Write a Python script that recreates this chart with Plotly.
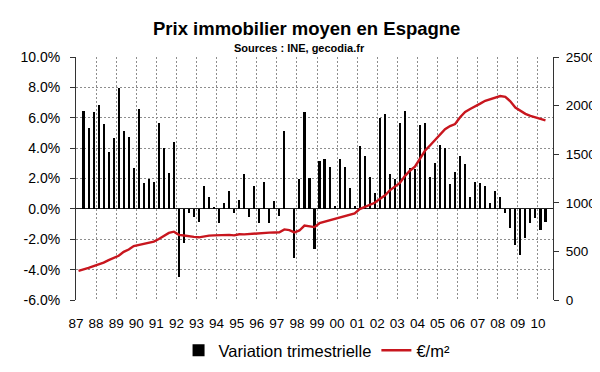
import plotly.graph_objects as go

# Quarterly data, 1987Q1 .. 2010Q2
year_labels = ["87", "88", "89", "90", "91", "92", "93", "94", "95", "96", "97", "98",
               "99", "00", "01", "02", "03", "04", "05", "06", "07", "08", "09", "10"]

pct_ticks = [-6, -4, -2, 0, 2, 4, 6, 8, 10]
pct_tick_labels = ["-6.0%", "-4.0%", "-2.0%", "0.0%", "2.0%", "4.0%", "6.0%", "8.0%", "10.0%"]

# Average price (EUR/m2), starting 1987Q1
price_eur_m2 = [
    300, 312, 330, 348, 365, 385, 410, 430, 455, 495, 520, 555,
    565, 575, 588, 600, 628, 660, 690, 703, 670, 663, 660, 650,
    645, 655, 662, 665, 668, 669, 670, 665, 676, 675, 680, 679,
    684, 690, 693, 695, 696, 726, 719, 696, 715, 765, 760, 750,
    790, 805, 822, 835, 850, 860, 875, 890, 935, 956, 975, 1000,
    1040, 1075, 1128, 1165, 1205, 1275, 1330, 1372, 1450, 1535, 1590, 1645,
    1700, 1757, 1790, 1810, 1880, 1935, 1965, 1990, 2020, 2050, 2065, 2080,
    2098, 2090, 2045, 1980, 1950, 1915, 1895, 1880, 1865, 1848,
]

# Quarterly variation (%), starting 1987Q2
variation_pct = [
    6.47, 5.32, 6.35, 6.82, 5.60, 3.74, 4.66, 7.93, 5.15, 4.70, 2.71, 6.60,
    1.71, 1.99, 1.75, 5.68, 4.02, 2.39, 4.38, -4.51, -2.26, -0.30, -0.51, -0.88,
    1.50, 0.79, 0.15, -0.94, 0.36, 1.20, -0.30, 0.60, 2.31, -0.51, 1.50, -0.96,
    1.75, -0.96, 0.51, -0.49, 5.13, 0.00, -3.25, 1.97, 6.35, 2.01, -2.61, 3.12,
    3.27, 2.74, 0.19, 3.27, 2.76, 1.35, 0.19, 4.12, 3.46, 2.12, 1.03, 5.96,
    6.26, 2.29, 1.94, 5.64, 6.47, 2.71, 2.63, 5.53, 5.68, 2.09, 3.01, 4.19,
    4.00, 1.67, 2.41, 3.48, 2.93, 0.77, 1.75, 1.71, 1.52, 0.38, 1.20, 0.79,
    -0.30, -1.28, -2.41, -3.01, -1.90, -0.96, -0.60, -1.39, -0.85,
]

n_categories = 95  # axis spans 1987Q1 .. 2010Q3

x_price = [i + 0.5 for i in range(len(price_eur_m2))]
x_var = [i + 1.5 for i in range(len(variation_pct))]

FONT = "Liberation Sans, Arial, sans-serif"
GRID = "#8e8e8e"

fig = go.Figure()
fig.add_trace(go.Bar(
    x=x_var, y=variation_pct, name="Variation trimestrielle",
    marker=dict(color="black", line=dict(width=0)), width=0.42,
    yaxis="y",
))
fig.add_trace(go.Scatter(
    x=x_price, y=price_eur_m2, name="€/m²", mode="lines",
    line=dict(color="#c8161e", width=2.4), yaxis="y2",
))

fig.update_layout(
    width=600, height=372,
    margin=dict(l=66, r=54, t=49, b=74),
    paper_bgcolor="white", plot_bgcolor="white",
    font=dict(family=FONT, color="black"),
    showlegend=True,
    legend=dict(orientation="h", x=0.215, xanchor="left", y=-0.208, yanchor="middle",
                font=dict(size=16.5, family=FONT), bgcolor="rgba(0,0,0,0)",
                itemwidth=30, tracegroupgap=0),
    bargap=0,
    xaxis=dict(
        range=[0, n_categories],
        tickmode="array",
        tickvals=[4 * i for i in range(len(year_labels))],
        ticktext=year_labels,
        showgrid=True, gridcolor=GRID, gridwidth=1, griddash="2px,2px",
        zeroline=False, showline=False,
        ticks="outside", ticklen=11, tickcolor="rgba(0,0,0,0)",
        tickfont=dict(size=13.5, family=FONT),
    ),
    yaxis=dict(
        range=[-6, 10], tickmode="array",
        tickvals=pct_ticks, ticktext=pct_tick_labels,
        showgrid=True, gridcolor=GRID, gridwidth=1, griddash="2px,2px",
        zeroline=True, zerolinecolor="#222", zerolinewidth=1,
        showline=True, linecolor="#333", linewidth=1,
        ticks="outside", ticklen=5, tickcolor="#333",
        ticklabelstandoff=7,
        tickfont=dict(size=14, family=FONT),
    ),
    yaxis2=dict(
        range=[0, 2500], dtick=500, overlaying="y", side="right",
        showgrid=False, zeroline=False,
        showline=True, linecolor="#333", linewidth=1,
        ticks="outside", ticklen=5, tickcolor="#333",
        ticklabelstandoff=4,
        tickfont=dict(size=13.5, family=FONT),
    ),
    annotations=[
        dict(text="<b>Prix immobilier moyen en Espagne</b>", xref="paper", yref="paper",
             x=0.484, y=1.1157, xanchor="center", yanchor="middle", showarrow=False,
             font=dict(size=18.5, family=FONT)),
        dict(text="<b>Sources : INE, gecodia.fr</b>", xref="paper", yref="paper",
             x=0.469, y=1.0373, xanchor="center", yanchor="middle", showarrow=False,
             font=dict(size=11, family="Liberation Sans Narrow, " + FONT)),
    ],
)

fig.write_html("out.html")
